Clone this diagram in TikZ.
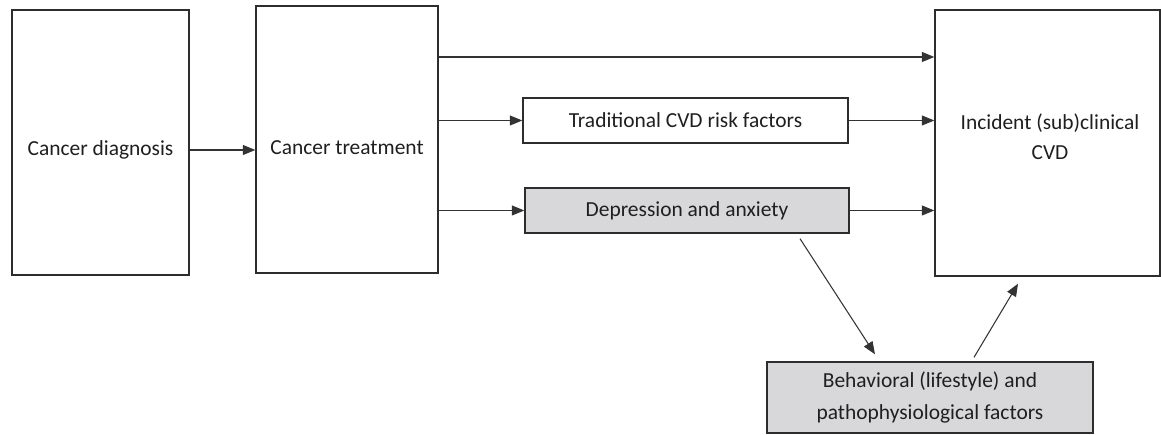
\documentclass[tikz,border=0pt]{standalone}
\usepackage{fontspec}
\setmainfont{Carlito}
\usepackage{xcolor}
\usepackage{tikz}
\usetikzlibrary{arrows.meta, calc}
\definecolor{boxgray}{RGB}{216,216,218}
\definecolor{linegray}{RGB}{45,45,45}
\tikzset{mybox/.style = {draw=linegray, line width=0.8pt, rectangle, inner sep=0pt, text=black!88, align=center, font=\fontsize{12.2}{18}\selectfont}}
\tikzset{mytext/.style = {inner sep=0pt, text=black!88, align=center, font=\fontsize{12.2}{17}\selectfont}}
\tikzset{grayfill/.style = {fill=boxgray}}
\tikzset{arr/.style = {-{Triangle[length=0.25cm, width=0.2cm]}, line width=0.6pt, draw=black!80}}

\begin{document}
\begin{tikzpicture}
    \useasboundingbox (0,0) rectangle (23.22,8.7);

    \node[mybox, minimum width=3.54cm, minimum height=5.3cm] (diag) at (2.01, 5.85) {};
    \node[mytext] (diagtext) at (2.01, 5.7) {Cancer diagnosis};
    \node[mybox, minimum width=3.64cm, minimum height=5.34cm] (treat) at (6.94, 5.91) {};
    \node[mytext] (treattext) at (6.94, 5.74) {Cancer treatment};

    \node[mybox, minimum width=6.5cm, minimum height=0.9cm] (trad) at (13.71, 6.29) {Traditional CVD risk factors};
    \node[mybox, grayfill, minimum width=6.48cm, minimum height=0.9cm] (dep) at (13.74, 4.49) {Depression and anxiety};

    \node[mybox, minimum width=4.5cm, minimum height=5.32cm] (inc) at (20.95, 5.84) {};
    \node[mytext] (inctext) at (21.0, 5.96) {Incident (sub)clinical\\CVD};

    \node[mybox, grayfill, minimum width=6.52cm, minimum height=1.42cm] (beh) at (18.6, 0.75) {Behavioral (lifestyle) and\\pathophysiological factors};

    \draw[arr] (diag.east |- diagtext) -- (treat.west |- diagtext);
    \draw[arr] (treat.east |- 0,7.56) -- (inc.west |- 0,7.56);
    \draw[arr] (treat.east |- trad.west) -- (trad.west);
    \draw[arr] (treat.east |- dep.west) -- (dep.west);
    \draw[arr] (trad.east) -- (inc.west |- trad.east);
    \draw[arr] (dep.east) -- (inc.west |- dep.east);
    \draw[arr] ([shift={(2.26,-0.1)}]dep.south) -- ([shift={(-1.1,0.14)}]beh.north);
    \draw[arr] ([shift={(0.88,0.08)}]beh.north) -- ([shift={(-0.59,-0.14)}]inc.south);
\end{tikzpicture}
\end{document}
